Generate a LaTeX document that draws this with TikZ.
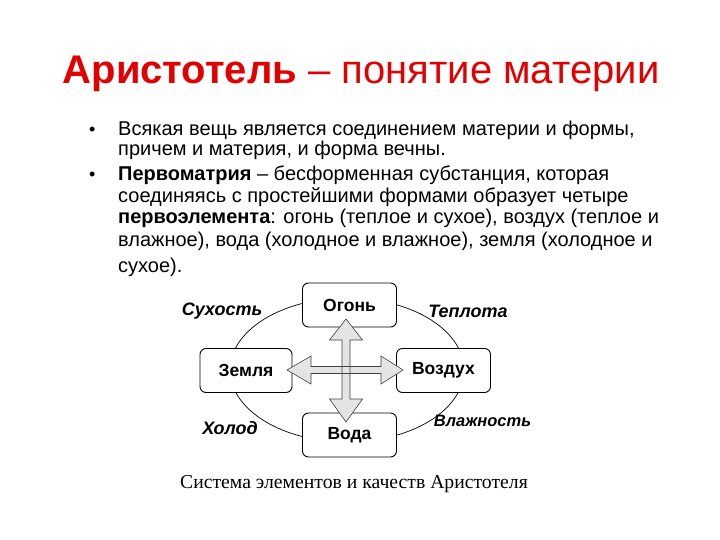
\documentclass[tikz,border=0pt]{standalone}
\usepackage{fontspec}
\setmainfont{Liberation Sans}
\newfontfamily\capfont{Liberation Serif}
\usetikzlibrary{calc}
\definecolor{titlered}{RGB}{226,0,0}
\definecolor{arrowfill}{RGB}{228,228,228}
\begin{document}
\begin{tikzpicture}[x=1pt,y=-1pt,
  elem/.style={draw=black,line width=0.9pt,rounded corners=6pt,fill=white,
    minimum width=94pt,minimum height=44pt,font=\fontsize{17.5}{19}\selectfont\bfseries},
  quality/.style={font=\fontsize{18}{20}\selectfont\bfseries\itshape},
  bodyline/.style={anchor=base west,inner sep=0pt,font=\fontsize{20}{22}\selectfont},
  bulletmark/.style={anchor=base west,inner sep=0pt,font=\fontsize{18}{20}\selectfont},
  arrowshape/.style={fill=arrowfill,draw=black!75,line width=0.6pt,line join=miter}]
\useasboundingbox (0,0) rectangle (720,540);
\fill[white] (0,0) rectangle (720,540);
% title
\node[titlered,anchor=base,inner sep=0pt,font=\fontsize{40}{44}\selectfont] (title) at (361,84)
  {\textbf{Аристотель} – понятие материи};
% body
\node[bulletmark] (b1) at (89,136) {•};
\node[bodyline] (l1) at (118,136) {Всякая вещь является соединением материи и формы,};
\node[bodyline] (l2) at (118,156) {причем и материя, и форма вечны.};
\node[bulletmark] (b2) at (89,181) {•};
\node[bodyline] (l3) at (118,181) {\textbf{Первоматрия} – бесформенная субстанция, которая};
\node[bodyline] (l4) at (118,203) {соединяясь с простейшими формами образует четыре};
\node[bodyline] (l5) at (118,224) {\textbf{первоэлемента}: огонь (теплое и сухое), воздух (теплое и};
\node[bodyline] (l6) at (118,246) {влажное), вода (холодное и влажное), земля (холодное и};
\node[bodyline] (l7) at (118,272) {сухое).};
% diagram
\coordinate (c) at (346,370);
\draw[black,line width=0.7pt] (347,370) ellipse [x radius=117,y radius=72];
\node[elem] (fire) at (349.5,305) {Огонь};
\node[elem,minimum width=92pt] (earth) at (246,370.5) {Земля};
\node[elem] (air) at (443.5,370.5) {Воздух};
\node[elem] (water) at (349.5,435) {Вода};
% cross arrows: fills first, then outlines
\path[arrowshape,draw=none] ($(c)+(0,-51)$) -- ++(16.5,21) -- ++(-12.5,0) -- ++(0,59) -- ++(12.5,0)
  -- ++(-16.5,23) -- ++(-16.5,-23) -- ++(12.5,0) -- ++(0,-59) -- ++(-12.5,0) -- cycle;
\path[arrowshape,draw=none] ($(c)+(-59,0)$) -- ++(24,-14) -- ++(0,10.5) -- ++(70,0) -- ++(0,-10.5)
  -- ++(22,14) -- ++(-22,14) -- ++(0,-10.5) -- ++(-70,0) -- ++(0,10.5) -- cycle;
\path[arrowshape,fill=none] ($(c)+(0,-51)$) -- ++(16.5,21) -- ++(-12.5,0) -- ++(0,59) -- ++(12.5,0)
  -- ++(-16.5,23) -- ++(-16.5,-23) -- ++(12.5,0) -- ++(0,-59) -- ++(-12.5,0) -- cycle;
\path[arrowshape,fill=none] ($(c)+(-59,0)$) -- ++(24,-14) -- ++(0,10.5) -- ++(70,0) -- ++(0,-10.5)
  -- ++(22,14) -- ++(-22,14) -- ++(0,-10.5) -- ++(-70,0) -- ++(0,10.5) -- cycle;
% qualities
\node[quality] (dry) at (222,311) {Сухость};
\node[quality] (warm) at (468,311) {Теплота};
\node[quality] (cold) at (230,428) {Холод};
\node[quality,font=\fontsize{16.5}{18}\selectfont\bfseries\itshape] (wet) at (482.5,421) {Влажность};
% caption
\node[anchor=base,inner sep=0pt,font=\capfont\fontsize{19.7}{22}\selectfont] (cap) at (354,488)
  {Система элементов и качеств Аристотеля};
\end{tikzpicture}
\end{document}
